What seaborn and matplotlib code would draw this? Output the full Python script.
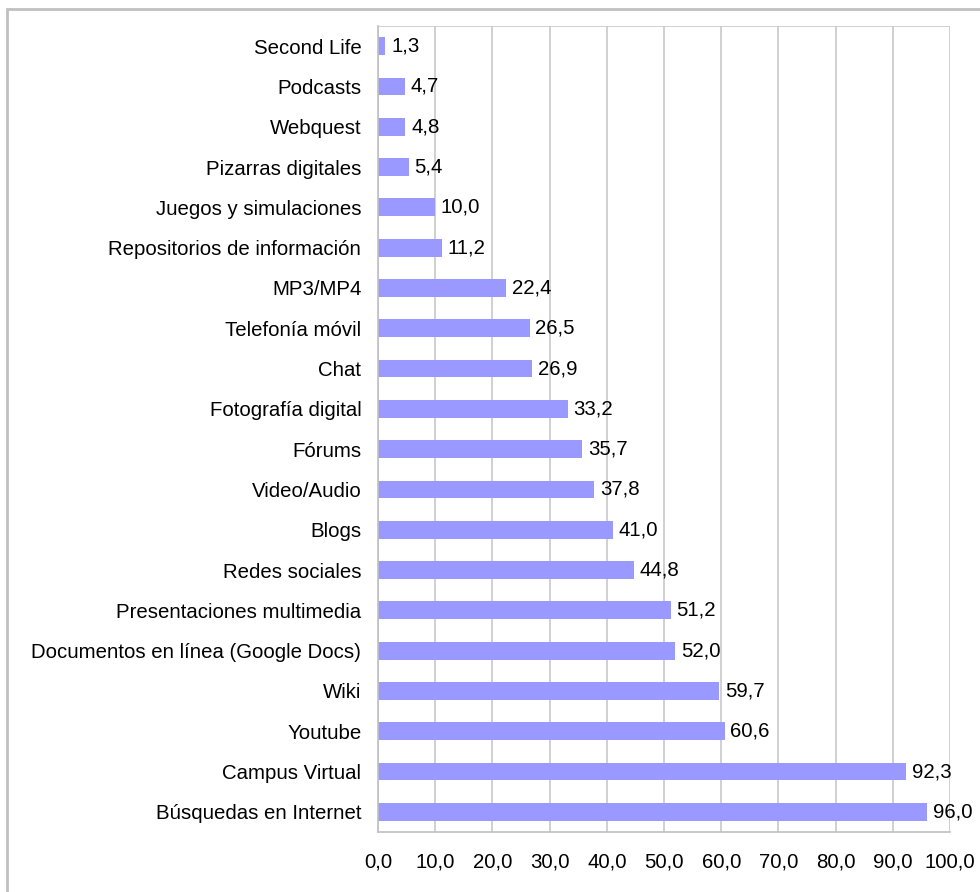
import numpy as np
import pandas as pd
import seaborn as sns
import matplotlib.pyplot as plt
from matplotlib.patches import Rectangle

# Data
categories = ["Second Life", "Podcasts", "Webquest", "Pizarras digitales",
              "Juegos y simulaciones", "Repositorios de información", "MP3/MP4",
              "Telefonía móvil", "Chat", "Fotografía digital", "Fórums",
              "Video/Audio", "Blogs", "Redes sociales", "Presentaciones multimedia",
              "Documentos en línea (Google Docs)", "Wiki", "Youtube",
              "Campus Virtual", "Búsquedas en Internet"]
values = [1.3, 4.7, 4.8, 5.4, 10.0, 11.2, 22.4, 26.5, 26.9, 33.2, 35.7,
          37.8, 41.0, 44.8, 51.2, 52.0, 59.7, 60.6, 92.3, 96.0]
x_ticks = np.arange(0, 101, 10)

df = pd.DataFrame({"cat": categories, "val": values})

sns.set_style("white")
plt.rcParams['font.family'] = ['Liberation Sans', 'DejaVu Sans']
fs = 14.7

fig = plt.figure(figsize=(9.8, 8.92), dpi=100)
ax = fig.add_axes([378/980, 1-832/892, (950-378)/980, (832-26)/892])

sns.barplot(data=df, x="val", y="cat", orient="h", color="#9999ff",
            width=0.44, saturation=1, linewidth=0, ax=ax)

for i, v in enumerate(values):
    ax.text(v + 1.0, i, f"{v:.1f}".replace(".", ","), va="center", ha="left",
            fontsize=fs, color="black")

ax.set_xlim(0, 100)
ax.set_ylim(len(categories) - 0.5, -0.5)
ax.set_xticks(x_ticks)
ax.set_xticklabels([f"{t:.1f}".replace(".", ",") for t in x_ticks], fontsize=fs)
ax.tick_params(axis="y", length=0, labelsize=fs, pad=12, labelcolor="black")
ax.set_yticks(np.arange(-0.5, len(categories), 1), minor=True)
ax.tick_params(axis="y", which="minor", length=8, color="#c0c0c0", width=1.2)
ax.tick_params(axis="x", length=8, color="#c0c0c0", width=1.2, pad=7,
               labelcolor="black")
ax.set_xlabel("")
ax.set_ylabel("")

ax.grid(axis="x", color="#c8c8c8", linewidth=1.2)
ax.set_axisbelow(True)
for s in ["top", "right"]:
    ax.spines[s].set_visible(False)
for s in ["left", "bottom"]:
    ax.spines[s].set_color("#c0c0c0")
    ax.spines[s].set_linewidth(1.2)
ax.axhline(-0.5, color="#c8c8c8", linewidth=1.2, zorder=0)

fig.patches.append(Rectangle((7/980, -0.1), 1.2, 1 - 9/892 + 0.1,
                             transform=fig.transFigure, fill=False,
                             edgecolor="#c0c0c0", linewidth=2))

fig.savefig("out.png", dpi=100)
